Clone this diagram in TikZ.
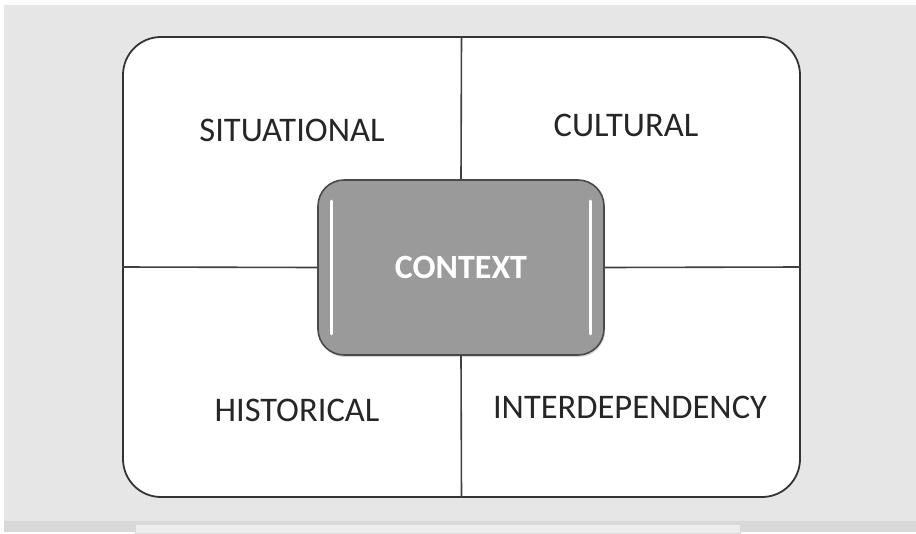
\documentclass[tikz,border=0pt]{standalone}
\usepackage{fontspec}
\setmainfont{Carlito}
\usetikzlibrary{shapes,calc,shadows}
\definecolor{backgray}{HTML}{E6E6E6}
\definecolor{bandgray}{HTML}{D8D8D8}
\definecolor{bargray}{HTML}{EDEDED}
\definecolor{boxgray}{HTML}{9A9A9A}
\definecolor{rimgray}{HTML}{4A4A4A}
\tikzstyle{framebox}=[rectangle,rounded corners=38pt,draw=black!80,line width=1.8pt,fill=white,minimum width=677pt,minimum height=460pt,inner sep=0pt]
\tikzstyle{centerbox}=[rectangle,rounded corners=26pt,draw=rimgray,line width=1.6pt,fill=boxgray,minimum width=286pt,minimum height=175pt,inner sep=0pt,text=white,font=\fontsize{34}{36}\selectfont\bfseries,drop shadow={shadow xshift=1pt,shadow yshift=-2pt,opacity=0.3}]
\tikzstyle{divider} = [draw,line width=1.6pt,black!75]
\tikzstyle{gloss} = [draw,white,line width=3pt,line cap=round]
\tikzstyle{quadlabel} = [font=\fontsize{34.5}{36}\selectfont,text=black!85]

\begin{document}
\begin{tikzpicture}[x=1pt,y=-1pt]
    % background and bottom band
    \fill[white] (0,0) rectangle (916,532);
    \fill[backgray] (4,5) rectangle (916,532);
    \fill[bandgray] (4,521) rectangle (916,532);
    \fill[bargray,draw=black!15] (135,524) rectangle (740,533);
    \useasboundingbox (0,0) rectangle (916,532);

    % frame and its four quarters
    \node[framebox] (frame) at (461.5,267) {};
    \node[centerbox] (context) at (461,267.5) {CONTEXT};
    \path[divider] (frame.north) -- (context.north);
    \path[divider] (context.south) -- (frame.south);
    \path[divider] (frame.west) -- (context.west);
    \path[divider] (context.east) -- (frame.east);

    % shine on the centre box
    \coordinate (glossLtop) at ($(context.north west)+(14,22)$);
    \coordinate (glossLbot) at ($(context.south west)+(14,-22)$);
    \coordinate (glossRtop) at ($(context.north east)+(-14,22)$);
    \coordinate (glossRbot) at ($(context.south east)+(-14,-22)$);
    \path[gloss] (glossLtop) -- (glossLbot);
    \path[gloss] (glossRtop) -- (glossRbot);

    % quarter labels
    \foreach \pos/\name/\label in {{(292,130)/situational/SITUATIONAL},
    {(626,125)/cultural/CULTURAL},
    {(297,410)/historical/HISTORICAL},
    {(630,407)/interdep/INTERDEPENDENCY}}
        \node[quadlabel] (\name) at \pos {\label};
\end{tikzpicture}
\end{document}
